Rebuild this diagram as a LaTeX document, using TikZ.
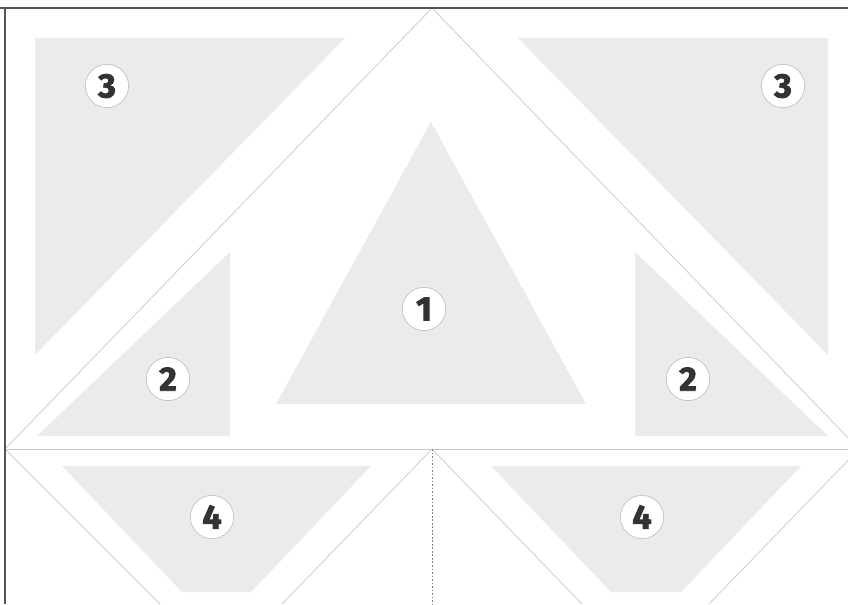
\documentclass[tikz,border=0pt]{standalone}
\usepackage{fontspec}
\setmainfont{Fira Sans}
\newfontfamily\heavyfont[BoldFeatures={FakeBold=2.4}]{Fira Sans}
\usepackage{xcolor}
\usetikzlibrary{calc}
\definecolor{panel}{HTML}{EBEBEB}
\definecolor{fold}{HTML}{C8C8C8}
\definecolor{frame}{HTML}{555555}
\definecolor{digit}{HTML}{333333}
\newcommand{\piece}[1]{\heavyfont\fontsize{29}{29}\selectfont\bfseries #1}

\begin{document}
\begin{tikzpicture}[x=0.03cm,y=-0.03cm]
  \tikzset{badge/.style={circle,draw=fold,fill=white,line width=0.7pt,minimum size=1.3cm,inner sep=0pt,text=digit},
           crease/.style={draw=fold,line width=0.6pt}}
  \useasboundingbox (0,0) rectangle (848,604);
  \clip (0,0) rectangle (848,604);
  \fill[white] (0,0) rectangle (848,604);
  % corners of the fold lines
  \coordinate (apex) at (432,8);
  \coordinate (westC) at (5,449);
  \coordinate (eastC) at (859,449);
  \coordinate (midC) at (432,449);
  % grey panels
  \fill[panel] (35,38) -- (345,38) -- (35,355) -- cycle;
  \fill[panel] (518,38) -- (828,38) -- (828,355) -- cycle;
  \fill[panel] (431,122) -- (586,404) -- (276,404) -- cycle;
  \fill[panel] (230,252) -- (230,436) -- (37,436) -- cycle;
  \fill[panel] (635,252) -- (635,436) -- (828,436) -- cycle;
  \fill[panel] (62,466) -- (371,466) -- (251,592) -- (182,592) -- cycle;
  \fill[panel] (491,466) -- (801,466) -- (681,592) -- (611,592) -- cycle;
  % creases
  \draw[crease] (westC) -- (apex) -- (eastC);
  \draw[crease] (westC) -- (eastC);
  \draw[crease] (westC) -- ($(westC)+(155,155)$);
  \draw[crease] ($(midC)+(-150,155)$) -- (midC) -- ($(midC)+(150,155)$);
  \draw[crease] (eastC) -- ($(eastC)+(-150,155)$);
  \draw[draw=gray,line width=0.5pt,dash pattern=on 1.5pt off 1.5pt] (midC) -- (432,604);
  % frame
  \draw[frame,line width=1.4pt] (0,8) -- (848,8);
  \draw[frame,line width=1pt] (5,8) -- (5,604);
  % piece numbers
  \node[badge] (p3a) at (107,86) {\piece{3}};
  \node[badge] (p3b) at (783,86) {\piece{3}};
  \node[badge] (p1) at (424,309) {\piece{1}};
  \node[badge] (p2a) at (168,379) {\piece{2}};
  \node[badge] (p2b) at (688,379) {\piece{2}};
  \node[badge] (p4a) at (212,517) {\piece{4}};
  \node[badge] (p4b) at (642,517) {\piece{4}};
\end{tikzpicture}
\end{document}
